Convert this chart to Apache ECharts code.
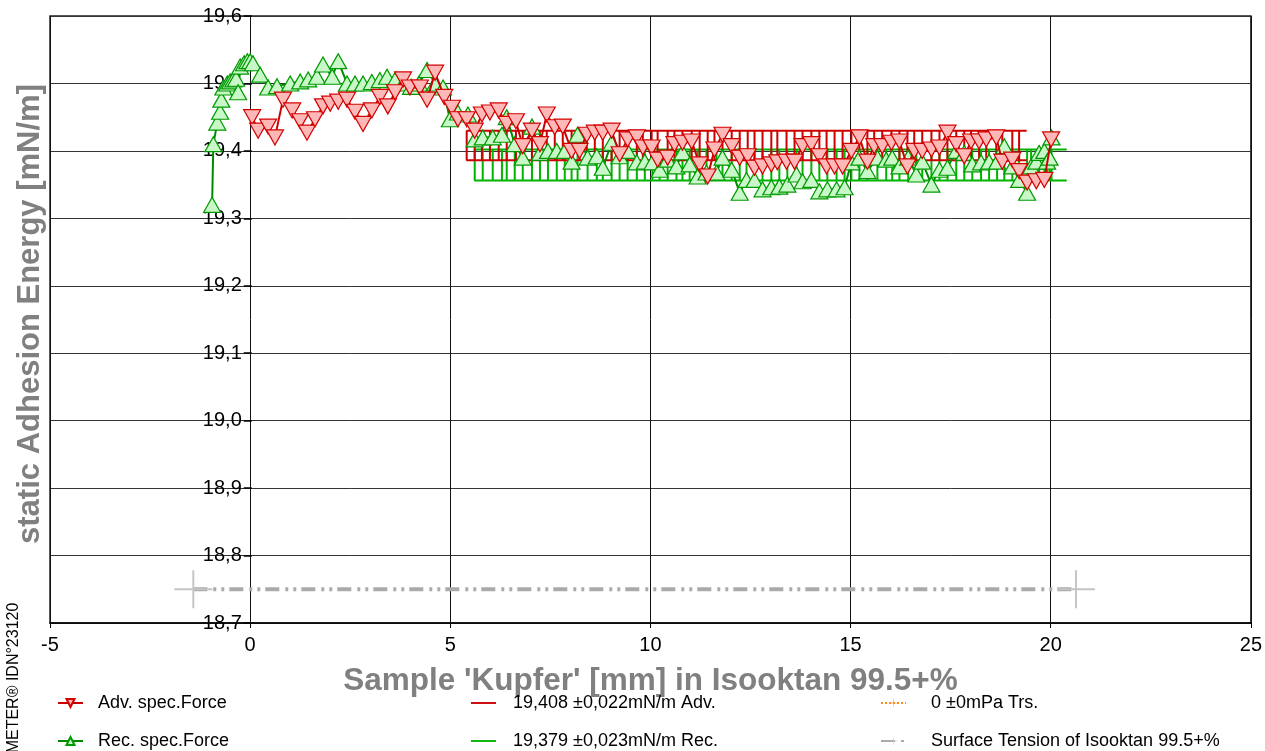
<!DOCTYPE html>
<html>
<head>
<meta charset="utf-8">
<script src="https://cdn.jsdelivr.net/npm/echarts@6/dist/echarts.min.js"></script>
<style>
  html, body { margin: 0; padding: 0; background: #fff; }
  #chart { width: 1265px; height: 751px; }
</style>
</head>
<body>
<div id="chart"></div>
<script>
// ---------- data ----------
const ADV_X = [0.05,0.20,0.45,0.62,0.82,1.05,1.25,1.42,1.62,1.82,
  2.00,2.20,2.42,2.62,2.82,3.04,3.24,3.44,3.62,3.82,
  3.99,4.24,4.42,4.62,4.85,5.04,5.19,5.41,5.61,5.79,
  5.99,6.21,6.41,6.64,6.81,7.04,7.24,7.41,7.61,7.81,
  8.03,8.23,8.41,8.61,8.81,9.03,9.23,9.43,9.66,9.81,
  10.03,10.18,10.43,10.60,10.80,11.03,11.23,11.43,11.60,11.80,
  12.03,12.23,12.43,12.60,12.80,13.02,13.17,13.40,13.60,13.80,
  14.02,14.22,14.40,14.60,14.80,15.02,15.22,15.42,15.59,15.79,
  16.02,16.22,16.42,16.59,16.79,17.02,17.22,17.42,17.64,17.84,
  18.01,18.21,18.39,18.64,18.79,19.04,19.21,19.41,19.64,19.84,
  20.01];
const ADV_Y = [19.450,19.430,19.436,19.420,19.476,19.460,19.444,19.427,19.447,19.466,
  19.470,19.473,19.476,19.458,19.440,19.460,19.480,19.466,19.487,19.506,
  19.494,19.494,19.476,19.516,19.480,19.464,19.447,19.447,19.430,19.454,
  19.457,19.460,19.440,19.444,19.407,19.430,19.410,19.454,19.435,19.436,
  19.400,19.400,19.424,19.427,19.427,19.430,19.395,19.417,19.420,19.405,
  19.405,19.387,19.390,19.410,19.412,19.414,19.380,19.362,19.402,19.424,
  19.407,19.390,19.392,19.375,19.377,19.380,19.383,19.384,19.384,19.407,
  19.410,19.392,19.377,19.377,19.377,19.400,19.420,19.384,19.407,19.407,
  19.412,19.414,19.377,19.400,19.400,19.402,19.405,19.427,19.410,19.392,
  19.414,19.414,19.417,19.420,19.384,19.387,19.370,19.353,19.355,19.357,
  19.417];

const REC_X = [-0.95,-0.92,-0.82,-0.75,-0.72,-0.67,-0.57,-0.50,-0.42,-0.35,
  -0.30,-0.25,-0.15,-0.07,0.00,0.07,0.25,0.45,0.67,1.00,
  1.25,1.45,1.67,1.82,2.05,2.20,2.42,2.62,2.82,3.04,
  3.24,3.42,3.62,3.82,4.02,4.22,4.42,4.62,4.82,4.99,
  5.19,5.44,5.61,5.81,6.06,6.29,6.41,6.61,6.81,7.04,
  7.24,7.44,7.66,7.86,8.03,8.18,8.43,8.66,8.81,9.03,
  9.23,9.43,9.66,9.86,10.05,10.23,10.43,10.65,10.80,10.98,
  11.18,11.40,11.65,11.80,12.03,12.23,12.40,12.60,12.80,13.02,
  13.22,13.42,13.65,13.80,14.02,14.22,14.42,14.65,14.85,15.02,
  15.22,15.42,15.67,15.89,16.04,16.22,16.44,16.64,16.79,17.02,
  17.22,17.42,17.64,17.84,18.04,18.26,18.46,18.66,18.84,19.04,
  19.21,19.41,19.51,19.64,19.71,19.84,19.91,19.97,20.02];
const REC_Y = [19.320,19.410,19.442,19.458,19.476,19.494,19.500,19.503,19.506,19.507,
  19.487,19.525,19.530,19.533,19.533,19.530,19.513,19.494,19.496,19.500,
  19.503,19.506,19.510,19.528,19.510,19.533,19.500,19.500,19.500,19.502,
  19.505,19.510,19.505,19.500,19.495,19.500,19.520,19.500,19.494,19.447,
  19.457,19.454,19.417,19.420,19.420,19.424,19.450,19.410,19.390,19.436,
  19.397,19.400,19.400,19.400,19.384,19.424,19.390,19.392,19.375,19.412,
  19.392,19.400,19.383,19.384,19.383,19.372,19.387,19.377,19.398,19.380,
  19.362,19.368,19.368,19.390,19.372,19.338,19.357,19.357,19.343,19.346,
  19.347,19.350,19.365,19.355,19.357,19.340,19.343,19.343,19.346,19.383,
  19.390,19.370,19.390,19.387,19.390,19.377,19.390,19.365,19.384,19.350,
  19.372,19.375,19.400,19.397,19.380,19.383,19.384,19.384,19.407,19.377,
  19.357,19.338,19.377,19.384,19.397,19.400,19.384,19.390,19.420];

// mean ± standard deviation bands
const ADV_MEAN = 19.408, ADV_SD = 0.022, ADV_BAND = [5.4, 19.4];
const REC_MEAN = 19.379, REC_SD = 0.023, REC_BAND = [5.6, 20.4];
// surface tension reference line
const ST_VALUE = 18.75, ST_RANGE = [-1.42, 20.63];

const X_TICKS = { min: -5, max: 25, step: 5 };
const Y_TICKS = { min: 18.7, max: 19.6, step: 0.1 };

const NAMES = {
  adv: 'Adv. spec.Force',
  rec: 'Rec. spec.Force',
  advBand: '19,408 ±0,022mN/m Adv.',
  recBand: '19,379 ±0,023mN/m Rec.',
  trs: '0 ±0mPa Trs.',
  st: 'Surface Tension of Isooktan 99.5+%'
};

// ---------- helpers ----------
const zip = (xs, ys) => xs.map((x, i) => [x, ys[i]]);
function hatch(xs, mean, sd, band) {
  const out = [];
  xs.forEach(x => {
    if (x >= band[0] && x <= band[1]) {
      out.push([x, mean - sd], [x, mean + sd], [x, '-']);
    }
  });
  return out;
}
const CROSS = 'path://M0,19H40V21H0Z M19,0H21V40H19Z';
const LINE_ICON = 'path://M0,0H40V3H0Z';
const FONT = 'Arial, "Liberation Sans", sans-serif';
const GRID_LEFT = 50;

function bandSeries(name, mean, sd, band, xs, color) {
  const base = { name, type: 'line', symbol: 'none', z: 3, silent: true,
    itemStyle: { color }, lineStyle: { color, width: 2 } };
  return [
    Object.assign({}, base, { data: [[band[0], mean + sd], [band[1], mean + sd]] }),
    Object.assign({}, base, { data: [[band[0], mean - sd], [band[1], mean - sd]] }),
    Object.assign({}, base, { data: hatch(xs, mean, sd, band), connectNulls: false })
  ];
}

const chart = echarts.init(document.getElementById('chart'), null, { renderer: 'canvas' });

const legendBase = {
  orient: 'vertical', top: 694, itemWidth: 25, itemHeight: 10, itemGap: 20,
  padding: 0, selectedMode: false
};
const legendText = pad => ({ fontFamily: FONT, fontSize: 18, color: '#000', lineHeight: 18,
  padding: [0, 0, 0, pad] });

const option = {
  animation: false,
  backgroundColor: '#fff',
  grid: { left: GRID_LEFT, right: 13, top: 16, bottom: 128, show: true,
    borderColor: '#222', borderWidth: 1.5, backgroundColor: 'transparent' },
  legend: [
    Object.assign({}, legendBase, { left: 57, data: [NAMES.adv, NAMES.rec], textStyle: legendText(10) }),
    Object.assign({}, legendBase, { left: 471,
      data: [{ name: NAMES.advBand, icon: LINE_ICON }, { name: NAMES.recBand, icon: LINE_ICON }],
      textStyle: legendText(12) }),
    Object.assign({}, legendBase, { left: 880, data: [NAMES.trs, NAMES.st], textStyle: legendText(20) })
  ],
  xAxis: {
    type: 'value', min: X_TICKS.min, max: X_TICKS.max, interval: X_TICKS.step,
    axisLine: { onZero: false, lineStyle: { color: '#000', width: 1.5 } },
    axisTick: { show: true, length: 5, lineStyle: { color: '#000' } },
    axisLabel: { fontFamily: FONT, fontSize: 20, color: '#000', margin: 12 },
    splitLine: { show: true, lineStyle: { color: '#111', width: 1 } },
    name: "Sample 'Kupfer' [mm] in Isooktan 99.5+%",
    nameLocation: 'middle', nameGap: 42,
    nameTextStyle: { fontFamily: FONT, fontSize: 31.5, fontWeight: 'bold', color: '#808080' }
  },
  yAxis: {
    type: 'value', min: Y_TICKS.min, max: Y_TICKS.max, interval: Y_TICKS.step,
    axisLine: { show: false },
    axisTick: { show: true, length: 8, lineStyle: { color: '#000', width: 1.5 } },
    axisLabel: { fontFamily: FONT, fontSize: 20, color: '#000', margin: 10,
      formatter: v => v.toFixed(1).replace('.', ',') },
    splitLine: { show: true, lineStyle: { color: '#333', width: 1 } }
  },
  graphic: [
    { type: 'text', x: 30, y: 314, rotation: Math.PI / 2,
      style: { text: 'static Adhesion Energy [mN/m]', fill: '#808080',
        font: 'bold 31px ' + FONT, align: 'center', verticalAlign: 'middle' } },
    { type: 'text', x: 14, y: 678, rotation: Math.PI / 2,
      style: { text: 'METER® IDN°23120', fill: '#000',
        font: '16px ' + FONT, align: 'center', verticalAlign: 'middle' } }
  ],
  series: [
    { name: NAMES.st, type: 'line', z: 2,
      data: [[ST_RANGE[0], ST_VALUE], [ST_RANGE[1], ST_VALUE]],
      symbol: CROSS, symbolSize: 38,
      itemStyle: { color: '#c4c4c4' },
      lineStyle: { color: '#aaaaaa', width: 4, type: [14, 6, 3, 5, 3, 5] } },
    { name: NAMES.trs, type: 'line', data: [], symbol: CROSS, symbolSize: 10,
      itemStyle: { color: '#ff8c1a' }, lineStyle: { color: '#ff8c1a', width: 1, type: 'dotted' } },
    ...bandSeries(NAMES.recBand, REC_MEAN, REC_SD, REC_BAND, REC_X, '#00b400'),
    ...bandSeries(NAMES.advBand, ADV_MEAN, ADV_SD, ADV_BAND, ADV_X, '#cc0000'),
    { name: NAMES.rec, type: 'line', z: 4, data: zip(REC_X, REC_Y),
      symbol: 'triangle', symbolSize: [17, 15], showAllSymbol: true,
      itemStyle: { color: '#c8f7c8', borderColor: '#009a00', borderWidth: 1.2 },
      lineStyle: { color: '#008a00', width: 2 } },
    { name: NAMES.adv, type: 'line', z: 5, data: zip(ADV_X, ADV_Y),
      symbol: 'triangle', symbolRotate: 180, symbolSize: [17, 15], showAllSymbol: true,
      itemStyle: { color: '#ffb8b8', borderColor: '#d40000', borderWidth: 1.2 },
      lineStyle: { color: '#cc0000', width: 2 } }
  ]
};
chart.setOption(option);
// place the y axis on x = 0, as in the original (computed through the x scale)
const zeroPx = chart.convertToPixel({ xAxisIndex: 0 }, 0);
chart.setOption({ yAxis: { offset: GRID_LEFT - zeroPx } });
</script>
</body>
</html>
